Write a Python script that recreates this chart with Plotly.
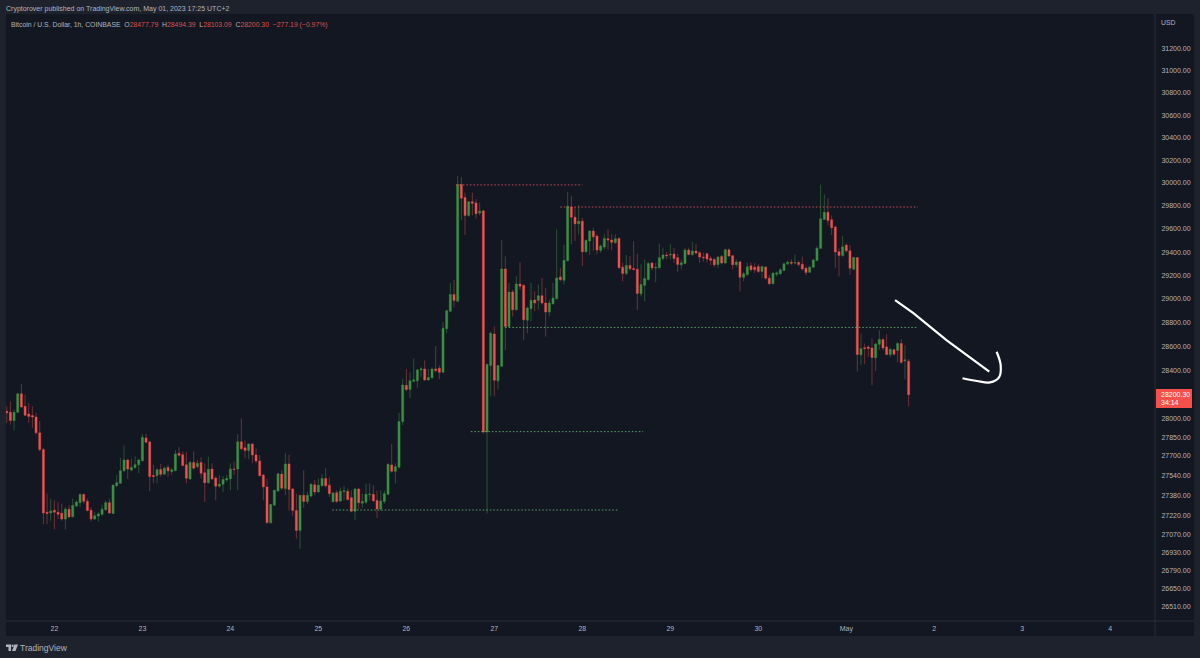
import pandas as pd
import plotly.graph_objects as go

# hourly BTCUSD candles
open_ = [
    28064, 28055, 27987, 28055, 28208, 28104, 28042, 28028, 28017, 27887,
    27751, 27248, 27242, 27264, 27248, 27240, 27193, 27272, 27212, 27297,
    27324, 27389, 27335, 27264, 27193, 27218, 27231, 27267, 27324, 27237,
    27460, 27479, 27579, 27666, 27585, 27607, 27628, 27661, 27846, 27813,
    27541, 27541, 27590, 27552, 27607, 27574, 27582, 27721, 27710, 27628,
    27514, 27647, 27613, 27646, 27564, 27483, 27594, 27521, 27456, 27472,
    27505, 27515, 27594, 27594, 27814, 27765, 27743, 27797, 27708, 27659,
    27545, 27450, 27163, 27304, 27418, 27553, 27437, 27635, 27434, 27261,
    27103, 27383, 27334, 27377, 27467, 27410, 27459, 27518, 27464, 27331,
    27404, 27337, 27413, 27415, 27364, 27255, 27434, 27320, 27328, 27388,
    27391, 27342, 27274, 27334, 27391, 27627, 27575, 27608, 27979, 28277,
    28243, 28311, 28314, 28405, 28413, 28322, 28339, 28413, 28419, 28385,
    28748, 28895, 29037, 28980, 29986, 29873, 29717, 29836, 29825, 29737,
    29757, 27894, 28441, 28705, 28314, 28436, 29255, 28767, 29059, 28909,
    29127, 29116, 28821, 28918, 28991, 28986, 29028, 28966, 28889, 28960,
    29003, 29187, 29159, 29326, 29791, 29702, 29644, 29667, 29403, 29495,
    29581, 29538, 29415, 29443, 29515, 29504, 29481, 29518, 29271, 29217,
    29286, 29260, 29254, 29044, 29116, 29165, 29306, 29263, 29265, 29346,
    29375, 29375, 29383, 29352, 29291, 29303, 29418, 29377, 29409, 29395,
    29357, 29386, 29346, 29337, 29294, 29363, 29306, 29420, 29369, 29291,
    29317, 29185, 29208, 29282, 29271, 29276, 29234, 29273, 29177, 29129,
    29211, 29214, 29242, 29299, 29313, 29307, 29310, 29296, 29262, 29228,
    29271, 29327, 29432, 29682, 29744, 29679, 29616, 29404, 29370, 29460,
    29412, 29254, 29353, 28530, 28590, 28596, 28587, 28505, 28618, 28658,
    28596, 28533, 28573, 28567, 28624, 28480, 28477.79,
]
high = [
    28104, 28145, 28077, 28208, 28289, 28200, 28132, 28104, 28050, 27982,
    27764, 27397, 27356, 27343, 27329, 27316, 27288, 27302, 27356, 27343,
    27397, 27397, 27356, 27288, 27248, 27248, 27307, 27343, 27356, 27465,
    27547, 27683, 27786, 27677, 27677, 27696, 27677, 27879, 27879, 27824,
    27628, 27601, 27634, 27615, 27628, 27601, 27748, 27770, 27737, 27732,
    27656, 27737, 27667, 27689, 27640, 27694, 27640, 27537, 27545, 27537,
    27545, 27640, 27654, 27876, 28006, 27824, 27803, 27803, 27762, 27708,
    27553, 27518, 27315, 27429, 27559, 27586, 27721, 27708, 27440, 27396,
    27383, 27586, 27410, 27478, 27505, 27518, 27553, 27599, 27526, 27402,
    27423, 27445, 27456, 27437, 27423, 27437, 27437, 27396, 27478, 27478,
    27464, 27423, 27423, 27423, 27640, 27797, 27640, 28052, 28331, 28413,
    28385, 28498, 28413, 28427, 28484, 28413, 28427, 28603, 28441, 28804,
    28909, 29136, 29164, 30063, 30052, 29916, 29839, 29916, 29859, 29830,
    29765, 28460, 28725, 28767, 28441, 29504, 29363, 29136, 29079, 29193,
    29312, 29122, 28937, 29136, 29065, 29122, 29178, 29093, 28994, 29136,
    29595, 29264, 29462, 29921, 29888, 29788, 29805, 29696, 29509, 29587,
    29610, 29553, 29466, 29553, 29596, 29553, 29553, 29524, 29309, 29375,
    29366, 29495, 29386, 29294, 29337, 29317, 29317, 29309, 29472, 29438,
    29400, 29472, 29438, 29386, 29337, 29438, 29438, 29489, 29472, 29409,
    29395, 29395, 29366, 29352, 29366, 29375, 29429, 29432, 29375, 29337,
    29323, 29231, 29309, 29310, 29305, 29299, 29282, 29276, 29205, 29225,
    29234, 29262, 29310, 29327, 29339, 29381, 29327, 29361, 29276, 29282,
    29339, 29452, 29985, 29900, 29866, 29716, 29631, 29432, 29537, 29475,
    29460, 29361, 29356, 28709, 28624, 28610, 28667, 28630, 28737, 28667,
    28703, 28590, 28582, 28638, 28661, 28610, 28494.39,
]
low = [
    27968, 27955, 27906, 28050, 28091, 28023, 27968, 27928, 27873, 27737,
    27152, 27152, 27180, 27112, 27193, 27180, 27112, 27201, 27207, 27288,
    27288, 27316, 27253, 27172, 27188, 27172, 27220, 27261, 27234, 27234,
    27452, 27476, 27574, 27514, 27574, 27596, 27560, 27656, 27805, 27416,
    27479, 27479, 27533, 27547, 27533, 27547, 27574, 27694, 27615, 27479,
    27506, 27588, 27599, 27518, 27328, 27478, 27505, 27342, 27445, 27410,
    27491, 27423, 27545, 27423, 27749, 27681, 27673, 27640, 27640, 27532,
    27342, 27152, 27158, 27301, 27410, 27423, 27383, 27261, 27220, 27038,
    26957, 27282, 27315, 27369, 27383, 27402, 27450, 27445, 27369, 27326,
    27320, 27328, 27342, 27342, 27247, 27185, 27274, 27282, 27315, 27342,
    27328, 27201, 27261, 27315, 27383, 27564, 27478, 27599, 27950, 28229,
    28172, 28300, 28257, 28342, 28314, 28314, 28328, 28385, 28328, 28379,
    28711, 28895, 28929, 28974, 29675, 29547, 29703, 29717, 29689, 29717,
    27880, 27238, 28186, 28186, 28243, 28427, 28569, 28759, 28852, 28901,
    29079, 28654, 28711, 28810, 28895, 28909, 28952, 28682, 28852, 28952,
    28994, 29150, 29122, 29320, 29466, 29495, 29553, 29280, 29395, 29375,
    29409, 29380, 29395, 29423, 29423, 29415, 29472, 29260, 29151, 29202,
    29243, 29245, 28907, 29022, 28979, 29156, 29243, 29142, 29260, 29329,
    29337, 29337, 29309, 29231, 29251, 29300, 29372, 29372, 29380, 29309,
    29317, 29309, 29288, 29271, 29265, 29294, 29300, 29360, 29251, 29271,
    29065, 29151, 29194, 29234, 29220, 29220, 29177, 29163, 29120, 29126,
    29191, 29205, 29239, 29288, 29290, 29296, 29276, 29242, 29202, 29220,
    29265, 29324, 29426, 29679, 29631, 29546, 29262, 29191, 29361, 29395,
    29205, 29248, 28392, 28448, 28454, 28516, 28278, 28397, 28573, 28567,
    28525, 28511, 28525, 28468, 28454, 28326, 28103.09,
]
close = [
    28050, 27987, 28055, 28208, 28099, 28031, 28020, 28017, 27887, 27751,
    27242, 27237, 27258, 27248, 27231, 27193, 27272, 27210, 27302, 27329,
    27389, 27335, 27261, 27193, 27220, 27234, 27272, 27324, 27242, 27465,
    27484, 27579, 27666, 27593, 27607, 27628, 27666, 27851, 27811, 27533,
    27533, 27588, 27552, 27601, 27579, 27588, 27715, 27705, 27623, 27520,
    27647, 27601, 27640, 27559, 27483, 27591, 27513, 27456, 27472, 27510,
    27518, 27594, 27591, 27814, 27757, 27743, 27797, 27708, 27659, 27540,
    27450, 27166, 27309, 27423, 27556, 27440, 27635, 27429, 27261, 27103,
    27383, 27334, 27383, 27472, 27410, 27464, 27518, 27459, 27396, 27402,
    27334, 27415, 27418, 27350, 27255, 27434, 27323, 27334, 27391, 27391,
    27339, 27274, 27337, 27396, 27632, 27575, 27613, 27979, 28280, 28243,
    28314, 28322, 28405, 28413, 28322, 28342, 28413, 28399, 28385, 28753,
    28901, 29037, 28986, 29986, 29867, 29717, 29836, 29822, 29731, 29754,
    27894, 28450, 28711, 28319, 28441, 29255, 28767, 29059, 28909, 29127,
    29108, 28824, 28923, 28989, 28966, 29028, 28966, 28889, 28966, 29008,
    29178, 29164, 29329, 29796, 29702, 29644, 29667, 29403, 29501, 29581,
    29532, 29418, 29452, 29518, 29504, 29484, 29515, 29265, 29217, 29286,
    29257, 29251, 29047, 29122, 29174, 29303, 29263, 29268, 29352, 29375,
    29369, 29380, 29346, 29294, 29309, 29418, 29380, 29409, 29392, 29357,
    29352, 29340, 29329, 29291, 29357, 29306, 29420, 29366, 29291, 29314,
    29185, 29214, 29274, 29248, 29248, 29234, 29276, 29177, 29129, 29220,
    29220, 29248, 29299, 29313, 29305, 29310, 29293, 29256, 29225, 29271,
    29333, 29432, 29687, 29744, 29673, 29611, 29401, 29370, 29446, 29412,
    29262, 29353, 28533, 28582, 28584, 28584, 28508, 28621, 28658, 28587,
    28533, 28576, 28536, 28624, 28468, 28488, 28200.30,
]
dates = pd.date_range('2023-04-21 11:00', periods=len(close), freq='h')

price_ticks = [31200, 31000, 30800, 30600, 30400, 30200, 30000, 29800, 29600, 29400,
               29200, 29000, 28800, 28600, 28400, 28000, 27850, 27700, 27540, 27380,
               27220, 27070, 26930, 26790, 26650, 26510]
date_ticks = ['2023-04-22', '2023-04-23', '2023-04-24', '2023-04-25', '2023-04-26', '2023-04-27',
              '2023-04-28', '2023-04-29', '2023-04-30', '2023-05-01', '2023-05-02', '2023-05-03',
              '2023-05-04']
date_labels = ['22', '23', '24', '25', '26', '27', '28', '29', '30', 'May', '2', '3', '4']

# levels drawn on the chart: (start, end, price, colour)
levels = [
    ('2023-04-26 13:30', '2023-04-28 00:00', 29983, 'rgba(240,82,95,0.85)'),
    ('2023-04-27 18:00', '2023-05-01 19:30', 29790, 'rgba(240,82,95,0.85)'),
    ('2023-04-27 03:00', '2023-05-01 19:30', 28760, 'rgba(100,180,110,0.9)'),
    ('2023-04-26 17:36', '2023-04-28 16:36', 27897, 'rgba(100,180,110,0.9)'),
    ('2023-04-25 03:48', '2023-04-28 10:00', 27265, 'rgba(100,180,110,0.9)'),
]

# hand drawn arrow
arrow_time = ['2023-05-01 13:18', '2023-05-01 18:18', '2023-05-02 03:24', '2023-05-02 15:00']
arrow_price = [28990, 28881, 28652, 28390]
hook_time = ['2023-05-02 17:00', '2023-05-02 18:06', '2023-05-02 17:42', '2023-05-02 15:12',
             '2023-05-02 11:36', '2023-05-02 07:42']
hook_price = [28556, 28446, 28345, 28301, 28313, 28336]

BG = '#131722'
FRAME = '#1e222d'
TEXT = '#b2b5be'
GREEN = '#3b9143'
RED = '#f0524f'
FONT = 'Liberation Sans'
LEFT, RIGHT, TOP, BOTTOM = 6, 1155, 14, 621


def px_x(x):
    return (x - LEFT) / (RIGHT - LEFT)


def px_y(y):
    return (BOTTOM - y) / (BOTTOM - TOP)


fig = go.Figure()
fig.add_trace(go.Candlestick(
    x=dates, open=open_, high=high, low=low, close=close,
    increasing=dict(line=dict(color='rgba(59,145,67,0.7)', width=0.7), fillcolor=GREEN),
    decreasing=dict(line=dict(color='rgba(240,82,79,0.6)', width=0.7), fillcolor=RED),
    whiskerwidth=0,
))
for start, end, price, color in levels:
    fig.add_trace(go.Scatter(x=[start, end], y=[price, price], mode='lines',
                             line=dict(color=color, width=1, dash='1.5px 2px')))
fig.add_trace(go.Scatter(x=arrow_time, y=arrow_price, mode='lines',
                         line=dict(color='white', width=2.2)))
fig.add_trace(go.Scatter(x=hook_time, y=hook_price, mode='lines',
                         line=dict(color='white', width=2.2, shape='spline')))

shapes = [
    dict(type='rect', xref='paper', yref='paper', x0=0, x1=px_x(1194), y0=px_y(636), y1=1,
         fillcolor=BG, line_width=0, layer='below'),
    dict(type='line', xref='paper', yref='paper', x0=1, x1=1, y0=px_y(636), y1=1,
         line=dict(color='#2a2e39', width=1)),
    dict(type='line', xref='paper', yref='paper', x0=0, x1=px_x(1194), y0=0, y1=0,
         line=dict(color='#2a2e39', width=1)),
    dict(type='rect', xref='paper', yref='paper', x0=px_x(1156), x1=px_x(1192), y0=px_y(408),
         y1=px_y(389), fillcolor='#f5504a', line_width=0),
    # TradingView logo
    dict(type='path', xref='paper', yref='paper', fillcolor=TEXT, line_width=0,
         path=' '.join(f'{c} {px_x(a):.5f} {px_y(b):.5f}' for c, a, b in [
             ('M', 6, 644.5), ('L', 11, 644.5), ('L', 11, 651), ('L', 8.5, 651), ('L', 8.5, 647), ('L', 6, 647)]) + ' Z'),
    dict(type='path', xref='paper', yref='paper', fillcolor=TEXT, line_width=0,
         path=' '.join(f'{c} {px_x(a):.5f} {px_y(b):.5f}' for c, a, b in [
             ('M', 14.5, 644.5), ('L', 18, 644.5), ('L', 15.5, 651), ('L', 12, 651)]) + ' Z'),
    dict(type='circle', xref='paper', yref='paper', fillcolor=TEXT, line_width=0,
         x0=px_x(11.5), x1=px_x(13.7), y0=px_y(647), y1=px_y(644.6)),
]


def note(text, x, y, size=7, color=TEXT, anchor='left'):
    return dict(text=text, xref='paper', yref='paper', x=px_x(x), y=px_y(y), showarrow=False,
                xanchor=anchor, yanchor='middle', font=dict(family=FONT, size=size, color=color))


legend_red = '#d9534f'
legend = ('Bitcoin / U.S. Dollar, 1h, COINBASE&nbsp; O<span style="color:%s">28477.79</span>&nbsp; '
          'H<span style="color:%s">28494.39</span>&nbsp; L<span style="color:%s">28103.09</span>&nbsp; '
          'C<span style="color:%s">28200.30</span>&nbsp; <span style="color:%s">−277.19 (−0.97%%)</span>'
          % ((legend_red,) * 5))
annotations = [
    note('Cryptorover published on TradingView.com, May 01, 2023 17:25 UTC+2', 4, 9, size=7),
    note(legend, 9, 25, size=6.85),
    note('USD', 1159, 23, size=6.8),
    note('28200.30', 1158.5, 394, size=7, color='white'),
    note('34:14', 1158.5, 403, size=7, color='white'),
    note('TradingView', 18, 648, size=8.5),
]

fig.update_layout(
    width=1200, height=658, autosize=False,
    margin=dict(l=LEFT, r=1200 - RIGHT, t=TOP, b=658 - BOTTOM, pad=0),
    paper_bgcolor=FRAME, plot_bgcolor=BG,
    showlegend=False, boxgap=0.2,
    shapes=shapes, annotations=annotations,
    font=dict(family=FONT, size=7, color=TEXT),
    xaxis=dict(type='date', range=['2023-04-21 10:48', '2023-05-04 12:12'], rangeslider=dict(visible=False),
               tickmode='array', tickvals=date_ticks, ticktext=date_labels, tickangle=0, ticklabelstandoff=2,
               showgrid=False, zeroline=False, showline=False, ticks='', tickfont=dict(size=7, color=TEXT)),
    yaxis=dict(type='log', side='right', range=[4.42152, 4.49857],
               tickmode='array', tickvals=price_ticks, ticktext=[f'{p:.2f}' for p in price_ticks],
               showgrid=False, zeroline=False, showline=False, ticks='outside', ticklen=4,
               tickcolor='rgba(0,0,0,0)', tickfont=dict(size=7, color=TEXT)),
)

fig.write_html("out.html", config={'displayModeBar': False}, post_script="document.body.style.margin='0';")
